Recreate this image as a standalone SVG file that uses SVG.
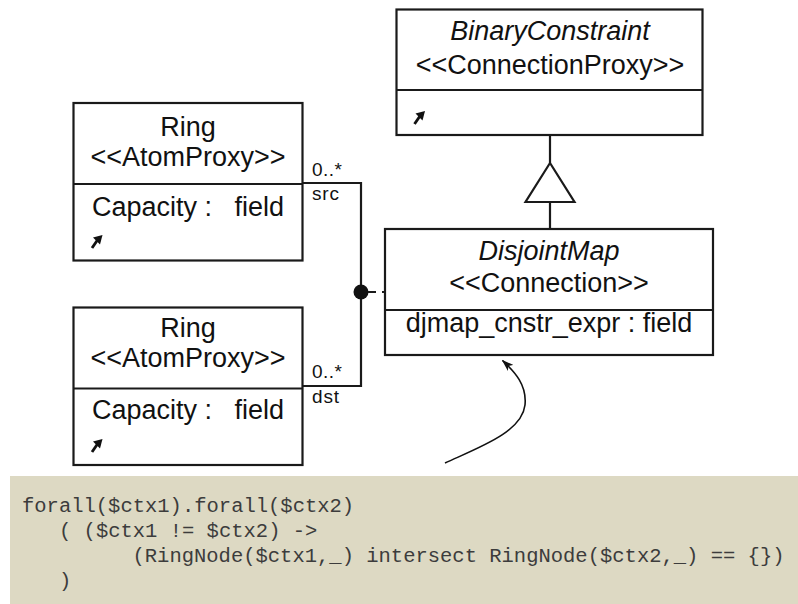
<svg xmlns="http://www.w3.org/2000/svg" xmlns:xlink="http://www.w3.org/1999/xlink" width="798" height="604" viewBox="0 0 798 604">
  <style>
    .box { fill: #ffffff; stroke: #1a1a1a; stroke-width: 2.2; }
    .div { stroke: #1a1a1a; stroke-width: 2.2; }
    .lbl { font-family: "Liberation Sans", Arial, sans-serif; font-size: 27px; fill: #111; }
    .ital { font-style: italic; }
    .mult { font-family: "Liberation Sans", Arial, sans-serif; font-size: 19px; fill: #111; }
    .wire { fill: none; stroke: #1a1a1a; stroke-width: 2.2; }
    .code { font-family: "Liberation Mono", "Courier New", monospace; font-size: 20.5px; fill: #3c3c3c; }
  </style>
  <defs>
    <!-- small shortcut-arrow icon; origin is the arrow tip -->
    <g id="link-icon">
      <path d="M0,0 L-9.5,2.5 L-2.5,9.5 Z" fill="#111"/>
      <path d="M-5,5 L-10.5,13" stroke="#111" stroke-width="2.8" fill="none"/>
    </g>
    <marker id="head" viewBox="0 0 12 8" refX="11" refY="4" markerWidth="12" markerHeight="8" markerUnits="userSpaceOnUse" orient="auto">
      <path d="M0,0 L12,4 L0,8 L3,4 Z" fill="#111"/>
    </marker>
  </defs>

  <rect width="798" height="604" fill="#ffffff"/>

  <!-- connectors -->
  <g id="connectors">
    <path class="wire" d="M303,183 H361 V386 H303"/>
    <circle cx="361" cy="292" r="7.5" fill="#111"/>
    <path class="wire" d="M368,292 H385" stroke-dasharray="8 6"/>
    <path class="wire" d="M550,135 V163 M550,202 V229"/>
    <path d="M550,163 L525.5,202 L574.5,202 Z" fill="#ffffff" stroke="#1a1a1a" stroke-width="2.2"/>
    <path d="M445,463 C480,447 522,432 525,405 C527,385 515,372 502.5,360.5" fill="none" stroke="#111" stroke-width="1.6" marker-end="url(#head)"/>
  </g>

  <!-- Ring (src) -->
  <g id="ring-src">
    <rect class="box" x="73.5" y="103" width="229" height="157.5"/>
    <line class="div" x1="73.5" y1="184" x2="302.5" y2="184"/>
    <text class="lbl" x="188" y="136" text-anchor="middle">Ring</text>
    <text class="lbl" x="188" y="166" text-anchor="middle">&lt;&lt;AtomProxy&gt;&gt;</text>
    <text class="lbl" x="92" y="216" xml:space="preserve">Capacity :   field</text>
    <use xlink:href="#link-icon" x="102.5" y="235"/>
  </g>

  <!-- Ring (dst) -->
  <g id="ring-dst">
    <rect class="box" x="73.5" y="307.5" width="229" height="157.5"/>
    <line class="div" x1="73.5" y1="388.5" x2="302.5" y2="388.5"/>
    <text class="lbl" x="188" y="337" text-anchor="middle">Ring</text>
    <text class="lbl" x="188" y="367" text-anchor="middle">&lt;&lt;AtomProxy&gt;&gt;</text>
    <text class="lbl" x="92" y="419" xml:space="preserve">Capacity :   field</text>
    <use xlink:href="#link-icon" x="102.5" y="439"/>
  </g>

  <!-- association end labels -->
  <g id="end-labels">
    <text class="mult" x="312" y="176" textLength="30" lengthAdjust="spacing">0..*</text>
    <text class="mult" x="312" y="200" textLength="27" lengthAdjust="spacing">src</text>
    <text class="mult" x="312" y="378" textLength="30" lengthAdjust="spacing">0..*</text>
    <text class="mult" x="312" y="403" textLength="27" lengthAdjust="spacing">dst</text>
  </g>

  <!-- BinaryConstraint -->
  <g id="binary-constraint">
    <rect class="box" x="396.5" y="9.5" width="306" height="125.5"/>
    <line class="div" x1="396.5" y1="90" x2="702.5" y2="90"/>
    <text class="lbl ital" x="550" y="40" text-anchor="middle">BinaryConstraint</text>
    <text class="lbl" x="550" y="74" text-anchor="middle">&lt;&lt;ConnectionProxy&gt;&gt;</text>
    <use xlink:href="#link-icon" x="425" y="111"/>
  </g>

  <!-- DisjointMap -->
  <g id="disjoint-map">
    <rect class="box" x="385" y="229" width="328" height="126"/>
    <line class="div" x1="385" y1="310" x2="713" y2="310"/>
    <text class="lbl ital" x="549" y="260" text-anchor="middle">DisjointMap</text>
    <text class="lbl" x="549" y="292" text-anchor="middle">&lt;&lt;Connection&gt;&gt;</text>
    <text class="lbl" x="549" y="332" text-anchor="middle">djmap_cnstr_expr : field</text>
  </g>

  <!-- constraint expression -->
  <g id="constraint-code">
    <rect x="10" y="476" width="788" height="128" fill="#DDD9C3"/>
    <text class="code" x="22" y="512">forall($ctx1).forall($ctx2)</text>
    <text class="code" x="59" y="537">( ($ctx1 != $ctx2) -&gt;</text>
    <text class="code" x="132.5" y="562">(RingNode($ctx1,_) intersect RingNode($ctx2,_) == {})</text>
    <text class="code" x="59" y="587">)</text>
  </g>
</svg>
